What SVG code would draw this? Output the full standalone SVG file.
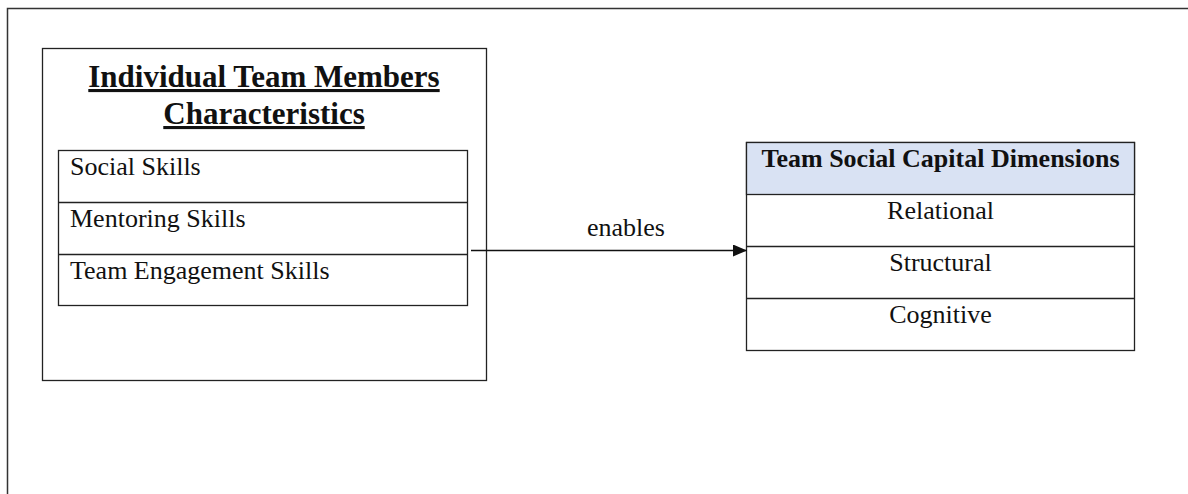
<svg xmlns="http://www.w3.org/2000/svg" width="1188" height="494" viewBox="0 0 1188 494">
<style>
.box{fill:#fff;stroke:#222;stroke-width:1.3}
.hdr{fill:#d9e2f3;stroke:#222;stroke-width:1.3}
.div{stroke:#222;stroke-width:1.3;fill:none}
.t{font-family:"Liberation Serif","Times New Roman",serif;font-size:26px;fill:#111}
.b{font-family:"Liberation Serif","Times New Roman",serif;font-weight:bold;fill:#111}
.c{text-anchor:middle}
</style>
<defs>
<marker id="ah" markerWidth="14" markerHeight="12" refX="14" refY="6" orient="auto" markerUnits="userSpaceOnUse">
<path d="M0,0 L14,6 L0,12 Z" fill="#111"/>
</marker>
</defs>
<rect width="1188" height="494" fill="#fff"/>
<path d="M7.5,494 V8.5 H1188" fill="none" stroke="#333" stroke-width="1.5"/>
<g id="individual">
<rect class="box" x="42.5" y="48.5" width="444" height="332"/>
<text class="b c" x="264" y="87" style="font-size:31px" text-decoration="underline">Individual Team Members</text>
<text class="b c" x="264" y="124" style="font-size:31px" text-decoration="underline">Characteristics</text>
<rect class="box" x="58.5" y="150.5" width="409" height="155"/>
<line class="div" x1="58.5" y1="202.5" x2="467.5" y2="202.5"/>
<line class="div" x1="58.5" y1="254.5" x2="467.5" y2="254.5"/>
<text class="t" x="70" y="175">Social Skills</text>
<text class="t" x="70" y="227">Mentoring Skills</text>
<text class="t" x="70" y="279">Team Engagement Skills</text>
</g>
<g id="dimensions">
<rect class="box" x="746.5" y="142.5" width="388" height="208"/>
<rect class="hdr" x="746.5" y="142.5" width="388" height="52"/>
<line class="div" x1="746.5" y1="246.5" x2="1134.5" y2="246.5"/>
<line class="div" x1="746.5" y1="298.5" x2="1134.5" y2="298.5"/>
<text class="b c" x="940.5" y="167" style="font-size:26px">Team Social Capital Dimensions</text>
<text class="t c" x="940.5" y="219">Relational</text>
<text class="t c" x="940.5" y="271">Structural</text>
<text class="t c" x="940.5" y="323">Cognitive</text>
</g>
<g id="connectors">
<line x1="471" y1="250.5" x2="747" y2="250.5" stroke="#111" stroke-width="1.3" marker-end="url(#ah)"/>
<text class="t c" x="626" y="236">enables</text>
</g>
</svg>
